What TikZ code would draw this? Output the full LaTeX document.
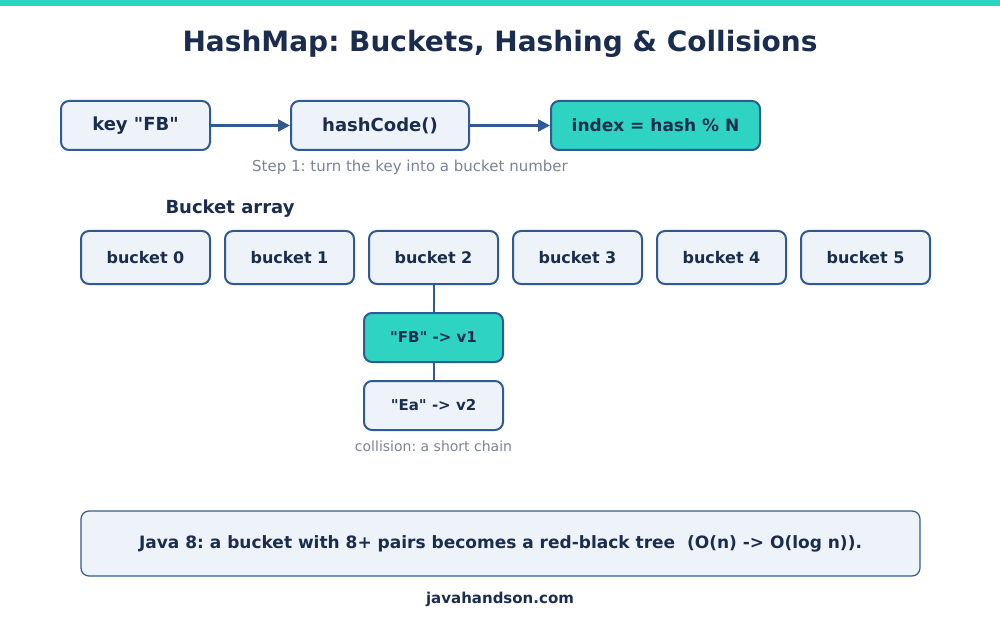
\documentclass[tikz,border=0pt]{standalone}
\usepackage{fontspec}
\setmainfont{DejaVu Sans}[Ligatures=TeXOff]
\usetikzlibrary{arrows.meta}
\definecolor{teal}{HTML}{2ED3C1}
\definecolor{navy}{HTML}{1B2D4F}
\definecolor{edge}{HTML}{2F5A92}
\definecolor{light}{HTML}{EEF3FA}
\definecolor{graytext}{HTML}{7A8494}
\frenchspacing
\tikzset{
  box/.style={draw=edge, line width=2pt, rounded corners=8pt, fill=light, text=navy, font=\bfseries\fontsize{16}{19}\selectfont, inner sep=0pt},
  hot/.style={box, fill=teal},
  note/.style={text=graytext},
  conn/.style={draw=edge, line width=2.5pt},
  arr/.style={conn, -{Triangle[length=12pt,width=12pt]}}
}
\begin{document}
\begin{tikzpicture}[x=1pt,y=-1pt]
\useasboundingbox (0,0) rectangle (1000,620);
\fill[teal] (0,0) rectangle (1000,6);
\node[text=navy, font=\bfseries\fontsize{28}{32}\selectfont] (title) at (500,43.5) {HashMap: Buckets, Hashing \& Collisions};
\node[box, minimum width=149pt, minimum height=49pt, font=\bfseries\fontsize{18}{21}\selectfont] (key) at (135.5,125.5) {key "FB"};
\node[box, minimum width=178pt, minimum height=49pt, font=\bfseries\fontsize{18}{21}\selectfont] (hash) at (380,125.5) {hashCode()};
\node[hot, minimum width=209pt, minimum height=49pt, font=\bfseries\fontsize{17}{20}\selectfont] (idx) at (655.5,125.5) {index = hash \% N};
\draw[arr] (key) -- (hash);
\draw[arr] (hash) -- (idx);
\node[note, font=\fontsize{15}{18}\selectfont] (step) at (410,167) {Step 1: turn the key into a bucket number};
\node[text=navy, font=\bfseries\fontsize{18}{21}\selectfont] (barr) at (230,208.5) {Bucket array};
\foreach \i in {0,...,5} {
  \node[box, minimum width=129pt, minimum height=53pt] (b\i) at ({145.5+144*\i},257.5) {bucket \i};
}
\node[hot, minimum width=139pt, minimum height=49pt, font=\bfseries\fontsize{15}{18}\selectfont] (fb) at (433.5,337.5) {"FB" -> v1};
\node[box, minimum width=139pt, minimum height=49pt, font=\bfseries\fontsize{15}{18}\selectfont] (ea) at (433.5,405.5) {"Ea" -> v2};
\draw[conn, line width=2pt] (b2) -- (fb);
\draw[conn, line width=2pt] (fb) -- (ea);
\node[note, font=\fontsize{14}{17}\selectfont] (coll) at (433.5,446) {collision: a short chain};
\node[box, line width=1.2pt, minimum width=839pt, minimum height=65pt, font=\bfseries\fontsize{17}{20}\selectfont] (java) at (500.5,543.5) {Java 8: a bucket with 8+ pairs becomes a red-black tree\ \ (O(n) -> O(log n)).};
\node[text=navy, font=\bfseries\fontsize{15}{18}\selectfont] (site) at (500,599) {javahandson.com};
\end{tikzpicture}
\end{document}
